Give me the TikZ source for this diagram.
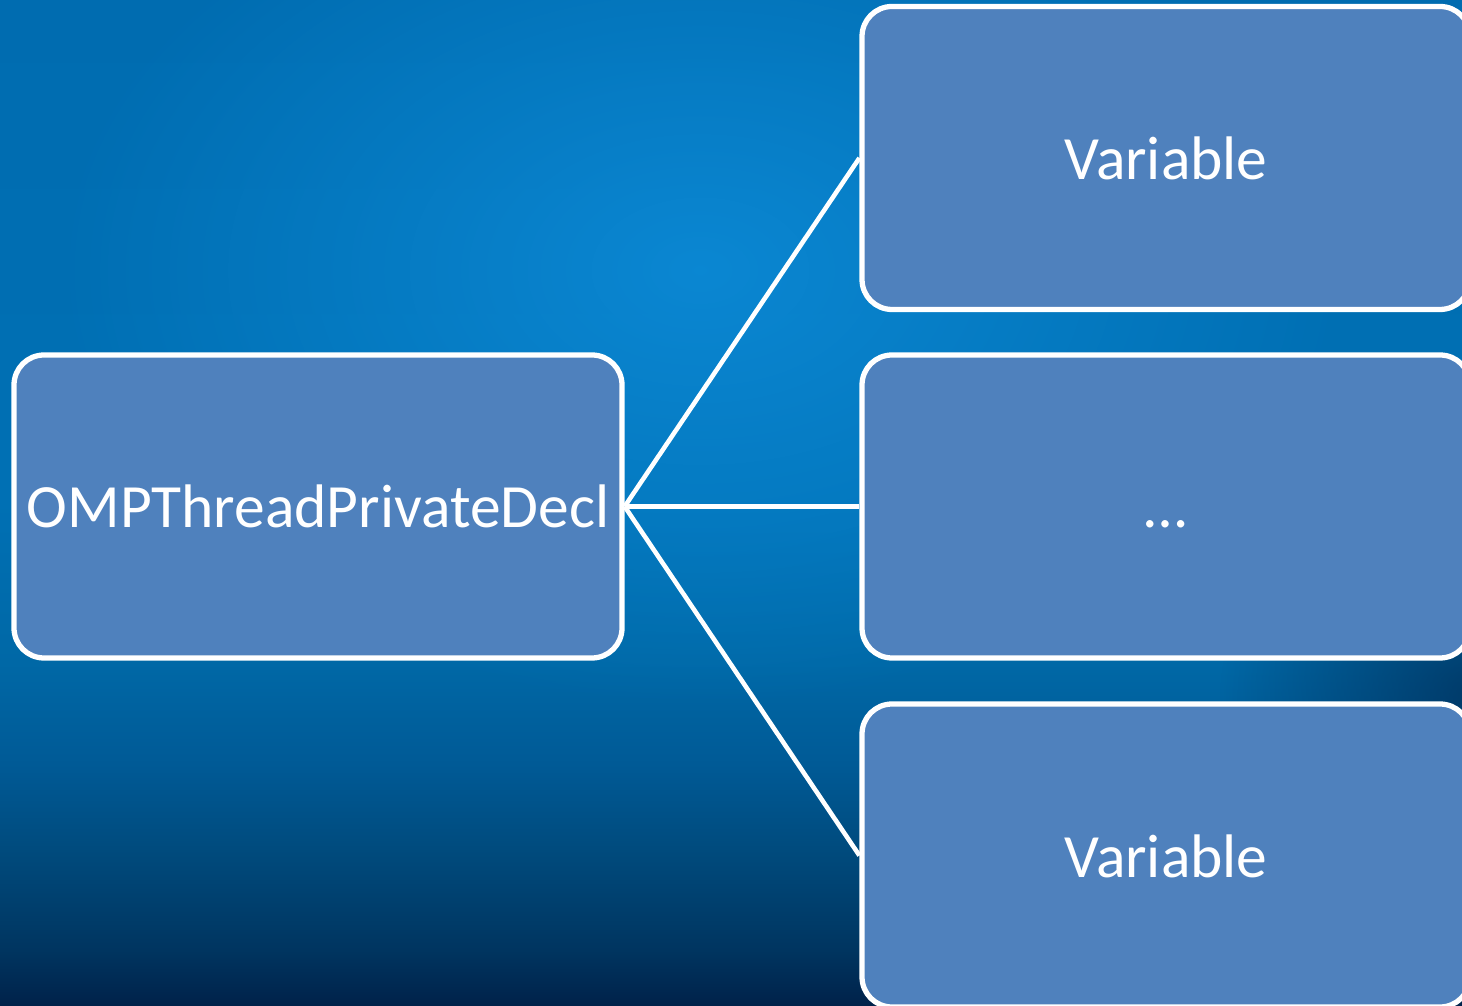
\documentclass[tikz,border=0pt]{standalone}
\usepackage{fontspec}
\setmainfont{Carlito}
\usetikzlibrary{fadings}

\definecolor{boxblue}{RGB}{79,129,189}
\definecolor{bglight}{RGB}{12,138,214}
\definecolor{bgdark}{RGB}{0,40,80}

% stops between 25bp (bottom) and 75bp (top)
\pgfdeclareverticalshading{bgfade}{100bp}{
    color(0bp)=(rgb,255:red,0;green,34;blue,74);
    color(25bp)=(rgb,255:red,0;green,34;blue,74);
    color(27.75bp)=(rgb,255:red,0;green,53;blue,96);
    color(32.5bp)=(rgb,255:red,0;green,74;blue,124);
    color(37bp)=(rgb,255:red,0;green,90;blue,150);
    color(42bp)=(rgb,255:red,0;green,104;blue,166);
    color(50bp)=(rgb,255:red,0;green,112;blue,180);
    color(75bp)=(rgb,255:red,0;green,108;blue,176);
    color(100bp)=(rgb,255:red,0;green,108;blue,176)}

\tikzfading[name=glow, inner color=transparent!0, outer color=transparent!100]

\tikzset{
    astbox/.style={draw=white, line width=1.5pt, fill=boxblue, rounded corners=0.3cm,
        minimum width=6.08cm, minimum height=3.03cm, inner sep=2pt, text=white,
        text height=0.43cm, text depth=0cm,
        font=\fontsize{17.5}{21}\selectfont},
    link/.style={draw=white, line width=1.3pt}
}

\begin{document}
\begin{tikzpicture}
        \useasboundingbox (0,0) rectangle (14.62,10.05);

        % background
        \shade[shading=bgfade] (0,0) rectangle (14.62,10.05);
        \fill[bglight, path fading=glow, opacity=0.9] (0.5,3.0) rectangle (13.5,11.7);
        \fill[bgdark, path fading=glow, opacity=0.7] (12.2,1.0) rectangle (17.4,5.2);

        % boxes
        \node[astbox] (decl) at (3.18,4.985) {OMPThreadPrivateDecl};
        \node[astbox] (var1) at (11.66,8.47) {Variable};
        \node[astbox] (dots) at (11.66,4.985) {\dots};
        \node[astbox] (var2) at (11.66,1.495) {Variable};

        % links
        \draw[link] (decl.east) -- (var1.west);
        \draw[link] (decl.east) -- (dots.west);
        \draw[link] (decl.east) -- (var2.west);
\end{tikzpicture}
\end{document}
